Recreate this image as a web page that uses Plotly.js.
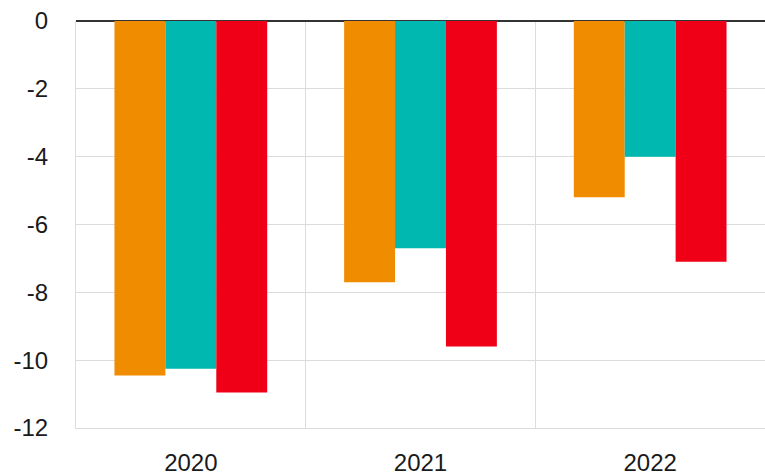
<!DOCTYPE html>
<html><head><meta charset="utf-8">
<script src="https://cdn.plot.ly/plotly-3.0.1.min.js"></script>
<style>html,body{margin:0;padding:0;background:#fff}#chart{width:765px;height:473px}</style>
</head><body><div id="chart"></div>
<script>
const years = ['2020', '2021', '2022'];
const seriesA = [-10.45, -7.7, -5.2];
const seriesB = [-10.25, -6.7, -4.0];
const seriesC = [-10.95, -9.6, -7.1];
const colors = ['#F08C00', '#00B8B0', '#EF0017'];
const yTicks = [0, -2, -4, -6, -8, -10, -12];

const traces = [seriesA, seriesB, seriesC].map((v, i) => ({
  type: 'bar', x: years, y: v, marker: {color: colors[i], line: {width: 0}},
  hoverinfo: 'x+y', showlegend: false
}));

const layout = {
  width: 765, height: 473,
  margin: {l: 76, r: 0, t: 21, b: 45, pad: 0},
  paper_bgcolor: '#fff', plot_bgcolor: '#fff',
  barmode: 'group', bargap: 0.335, bargroupgap: 0,
  font: {family: '"Liberation Sans", Arial, sans-serif', size: 24, color: '#1a1a1a'},
  xaxis: {
    type: 'category', tickson: 'boundaries', showgrid: true, gridcolor: '#dcdcdc', gridwidth: 1,
    ticks: '', ticklabelstandoff: 13, zeroline: false,
    showline: true, linecolor: '#dcdcdc', linewidth: 1, fixedrange: true
  },
  yaxis: {
    range: [-12, 0], tickvals: yTicks, ticktext: yTicks.map(String),
    showgrid: true, gridcolor: '#dcdcdc', gridwidth: 1,
    zeroline: true, zerolinecolor: '#333', zerolinewidth: 2,
    ticks: '', ticklabelstandoff: 22,
    showline: true, linecolor: '#dcdcdc', linewidth: 1, fixedrange: true
  }
};
Plotly.newPlot('chart', traces, layout, {displayModeBar: false, staticPlot: true});
</script></body></html>
